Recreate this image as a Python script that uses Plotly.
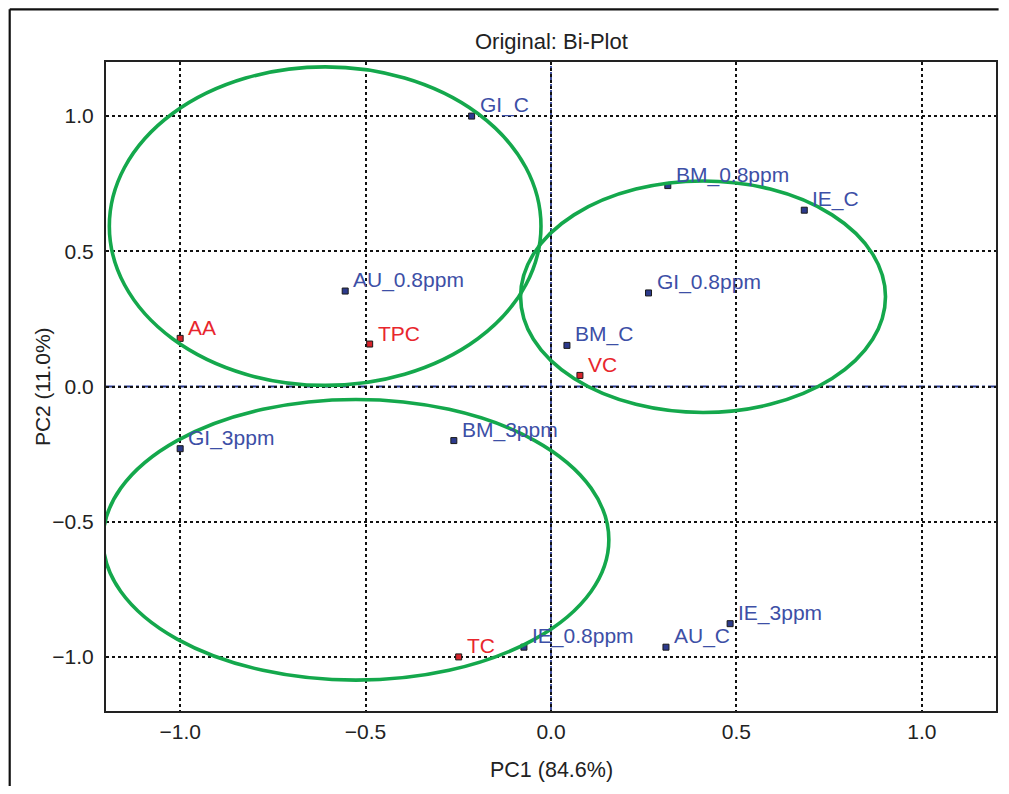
import plotly.graph_objects as go

# ---- data ----
sample_names = ["GI_C", "BM_0.8ppm", "IE_C", "AU_0.8ppm", "GI_0.8ppm", "BM_C",
                "GI_3ppm", "BM_3ppm", "IE_0.8ppm", "AU_C", "IE_3ppm"]
sample_pc1 = [-0.214, 0.315, 0.683, -0.555, 0.263, 0.043,
              -1.0, -0.262, -0.073, 0.310, 0.483]
sample_pc2 = [1.0, 0.743, 0.652, 0.353, 0.346, 0.152,
              -0.23, -0.20, -0.964, -0.964, -0.877]

var_names = ["AA", "TPC", "VC", "TC"]
var_pc1 = [-1.0, -0.489, 0.078, -0.249]
var_pc2 = [0.178, 0.157, 0.041, -1.0]

# ellipses: centre and semi-axes in data units
ell_cx = [-0.609, 0.410, -0.526]
ell_cy = [0.593, 0.332, -0.567]
ell_rx = [0.582, 0.492, 0.682]
ell_ry = [0.589, 0.428, 0.519]

tick_vals = [-1.0, -0.5, 0.0, 0.5, 1.0]
tick_text = ["\u22121.0", "\u22120.5", "0.0", "0.5", "1.0"]

BLUE_TXT = "#3d4fa6"
RED_TXT = "#e8262d"
FONT = "Liberation Sans, Arial, sans-serif"

# figure geometry (page has an 8px body margin)
W, H = 993, 778
ML, MT = 97.6, 53.7
PW, PH = 892.8, 649.0
MR = W - ML - PW
MB = H - MT - PH

fig = go.Figure()

fig.add_trace(go.Scatter(
    x=sample_pc1, y=sample_pc2, mode="markers", text=sample_names,
    marker=dict(symbol="square", size=6, color="#2c3a8c",
                line=dict(color="#1a1a1a", width=1)),
    showlegend=False, cliponaxis=False, hoverinfo="text",
))
fig.add_trace(go.Scatter(
    x=var_pc1, y=var_pc2, mode="markers", text=var_names,
    marker=dict(symbol="square", size=6, color="#d8232a",
                line=dict(color="#1a1a1a", width=1)),
    showlegend=False, cliponaxis=False, hoverinfo="text",
))

annotations = []
for names, xs, ys, col in [(sample_names, sample_pc1, sample_pc2, BLUE_TXT),
                           (var_names, var_pc1, var_pc2, RED_TXT)]:
    for n, x, y in zip(names, xs, ys):
        annotations.append(dict(
            text=n, x=x, y=y, xref="x", yref="y", showarrow=False,
            xanchor="left", yanchor="middle", xshift=6, yshift=11,
            font=dict(family=FONT, size=21, color=col)))

shapes = []
# zero lines (dash-dot)
shapes.append(dict(type="line", xref="x", yref="paper", x0=0, x1=0, y0=0, y1=1,
                   line=dict(color="#2f3f93", width=1.8, dash="dashdot"), layer="below"))
shapes.append(dict(type="line", xref="paper", yref="y", x0=0, x1=1, y0=0, y1=0,
                   line=dict(color="#2f3f93", width=1.8, dash="dashdot"), layer="below"))
# ellipses
for cx, cy, rx, ry in zip(ell_cx, ell_cy, ell_rx, ell_ry):
    shapes.append(dict(type="circle", xref="x", yref="y",
                       x0=cx - rx, x1=cx + rx, y0=cy - ry, y1=cy + ry,
                       line=dict(color="#14a84c", width=3.6)))
# outer frame (top and left), in paper units converted from figure pixels
fx_left = (1 - ML) / PW
fy_top = 1 + (MT - 1) / PH
fy_bot = 1 - (H - MT) / PH
fx_right = (W - ML) / PW
shapes.append(dict(type="line", xref="paper", yref="paper",
                   x0=fx_left, x1=fx_right, y0=fy_top, y1=fy_top,
                   line=dict(color="#111", width=2.2)))
shapes.append(dict(type="line", xref="paper", yref="paper",
                   x0=fx_left, x1=fx_left, y0=fy_top, y1=fy_bot,
                   line=dict(color="#111", width=2.2)))

axis_common = dict(
    tickvals=tick_vals, ticktext=tick_text,
    showgrid=True, gridcolor="#111", gridwidth=1.6, griddash="dot",
    zeroline=False, showline=True, mirror=True, linecolor="#222", linewidth=2,
    ticks="outside", tickcolor="rgba(0,0,0,0)",
    tickfont=dict(family=FONT, size=21, color="#222"),
)

annotations += [
    dict(text="Original: Bi-Plot", xref="paper", yref="paper", x=0.5,
         y=1 + (MT - 33) / PH,
         xanchor="center", yanchor="middle", showarrow=False,
         font=dict(family=FONT, size=22, color="#222")),
    dict(text="PC1 (84.6%)", xref="paper", yref="paper", x=0.5,
         y=-(762 - MT - PH) / PH,
         xanchor="center", yanchor="middle", showarrow=False,
         font=dict(family=FONT, size=21.5, color="#222")),
    dict(text="PC2 (11.0%)", xref="paper", yref="paper",
         x=(34 - ML) / PW, y=0.5,
         xanchor="center", yanchor="middle", showarrow=False, textangle=-90,
         font=dict(family=FONT, size=21, color="#222")),
]

fig.update_layout(
    width=W, height=H,
    margin=dict(l=ML, r=MR, t=MT, b=MB, pad=0),
    paper_bgcolor="white", plot_bgcolor="white",
    xaxis=dict(range=[-1.2, 1.2], ticklen=1, **axis_common),
    yaxis=dict(range=[-1.2, 1.2], ticklen=6, **axis_common),
    shapes=shapes,
    annotations=annotations,
)

fig.write_html("out.html")
